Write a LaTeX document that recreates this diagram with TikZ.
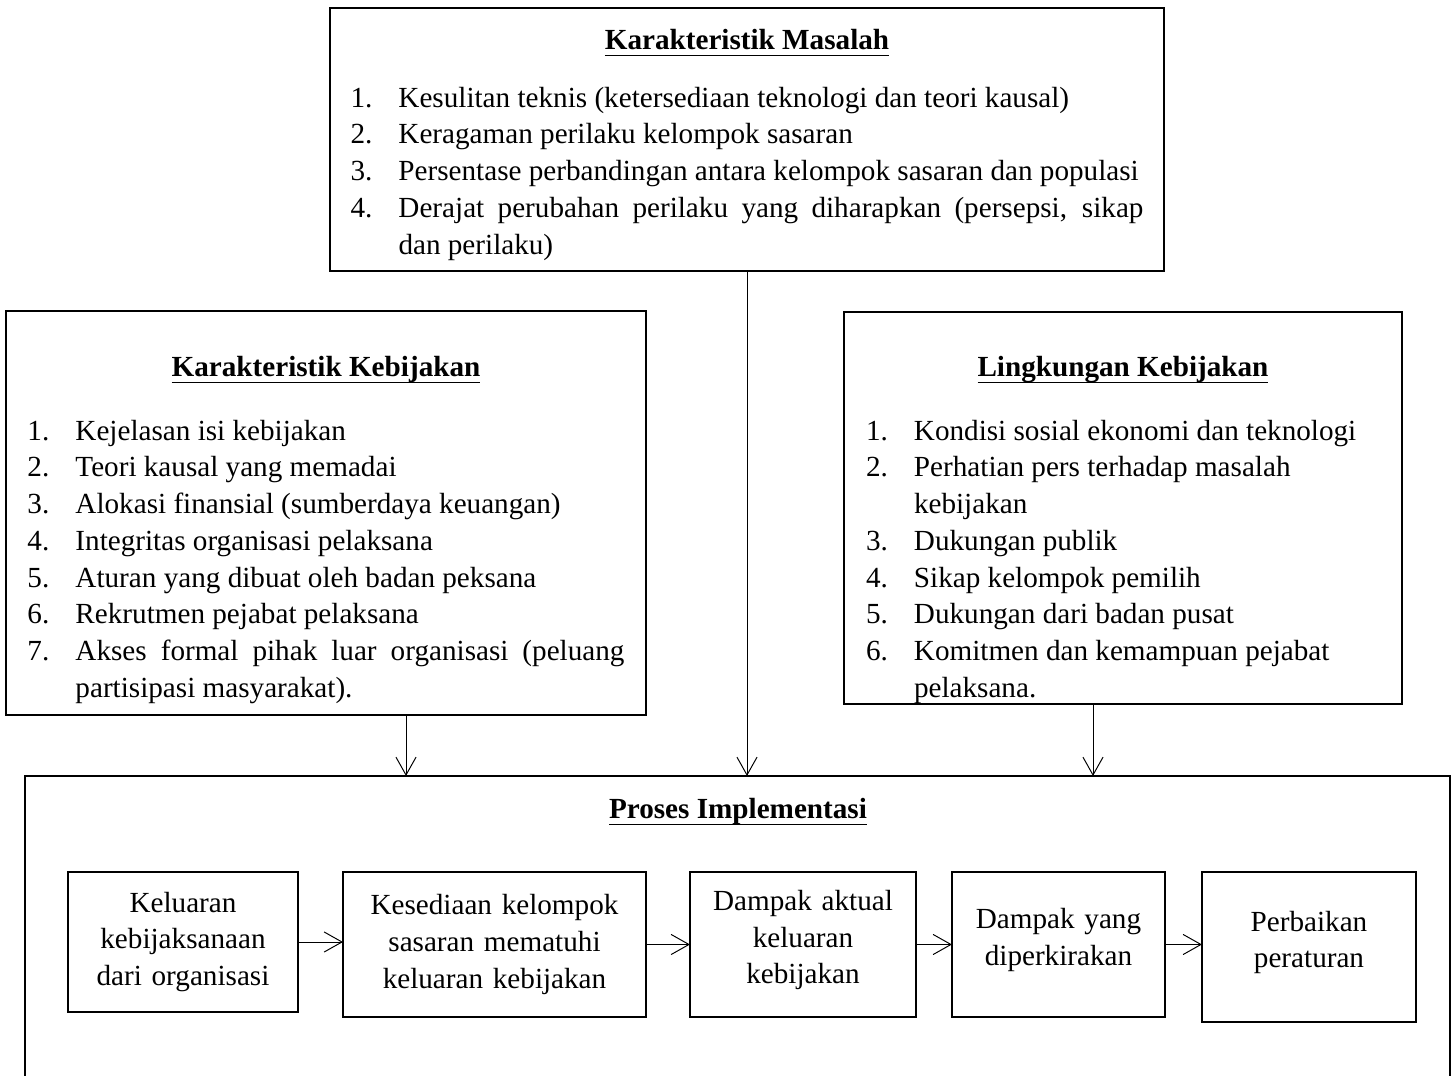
\documentclass[tikz,border=0pt]{standalone}
\usepackage{fontspec}
\setmainfont{Liberation Serif}
\usepackage{tikz}
\usetikzlibrary{arrows.meta,positioning}

\newlength{\px}
\setlength{\px}{0.408pt}
\hyphenpenalty=10000
\exhyphenpenalty=10000
% numbered line with hanging indent
\newcommand{\itm}[2]{\par\noindent\hangindent=48\px\hangafter=1\makebox[48\px][l]{#1.}#2}
% underline close to the baseline
\newcommand{\garis}[1]{\setbox0\hbox{#1}\rlap{\rule[-2.6pt]{\wd0}{0.7pt}}\box0}
% centred underlined heading: name, space above baseline, extra gap below
\newcommand{\judul}[3]{{\centering\rule{0pt}{#2\px}\garis{\textbf{#1}}\par}\vspace{#3\px}}
\newcommand{\bawah}[1]{\rule[-#1\px]{0pt}{#1\px}\par}
\newcommand{\ganjal}{\rule[-15\px]{0pt}{15\px}}

\begin{document}
\begin{tikzpicture}[x=\px, y=-\px, font=\fontsize{11.9}{15}\selectfont]
\tikzstyle{panel} = [rectangle, draw, line width=0.8pt, anchor=north, align=justify, inner ysep=0pt, outer sep=0pt]
\tikzstyle{tahap} = [rectangle, draw, line width=0.8pt, anchor=north, align=center, inner sep=0pt, outer sep=0pt]
\tikzstyle{arrow} = [line width=0.4pt, -{Straight Barb[length=7.3pt,width=8.2pt]}]

\useasboundingbox (0,0) rectangle (1456,1076);

\node[panel, text width=793\px, inner xsep=20.5\px] (masalah) at (747,8) {%
\judul{Karakteristik Masalah}{42}{20.3}
\itm{1}{Kesulitan teknis (ketersediaan teknologi dan teori kausal)}
\itm{2}{Keragaman perilaku kelompok sasaran}
\itm{3}{Persentase perbandingan antara kelompok sasaran dan populasi}
\itm{4}{Derajat perubahan perilaku yang diharapkan (persepsi, sikap\linebreak dan perilaku)\bawah{17}}};

\node[panel, text width=597\px, inner xsep=21.5\px] (kebijakan) at (326,311) {%
\judul{Karakteristik Kebijakan}{66}{26.3}
\itm{1}{Kejelasan isi kebijakan}
\itm{2}{Teori kausal yang memadai}
\itm{3}{Alokasi finansial (sumberdaya keuangan)}
\itm{4}{Integritas organisasi pelaksana}
\itm{5}{Aturan yang dibuat oleh badan peksana}
\itm{6}{Rekrutmen pejabat pelaksana}
\itm{7}{Akses formal pihak luar organisasi (peluang\linebreak partisipasi masyarakat).\bawah{18}}};

\node[panel, text width=514\px, inner xsep=22\px] (lingkungan) at (1123,312) {%
\judul{Lingkungan Kebijakan}{65}{26.3}
\itm{1}{Kondisi sosial ekonomi dan teknologi}
\itm{2}{Perhatian pers terhadap masalah\newline kebijakan}
\itm{3}{Dukungan publik}
\itm{4}{Sikap kelompok pemilih}
\itm{5}{Dukungan dari badan pusat}
\itm{6}{Komitmen dan kemampuan pejabat\newline pelaksana.\bawah{5}}};

\node[draw, line width=0.8pt, outer sep=0pt, minimum width=1425\px, minimum height=340\px, anchor=north] (proses) at (737.5,776) {};
\node[font=\fontsize{11.9}{15}\selectfont\bfseries] (prosesjudul) at (738,812) {\garis{Proses Implementasi}};

\node[tahap, minimum width=230\px, minimum height=140\px, text width=220\px] (keluaran) at (183,872) {Keluaran\\kebijaksanaan\\dari organisasi};
\node[tahap, minimum width=303\px, minimum height=145\px, text width=293\px] (kesediaan) at (494.5,872) {Kesediaan kelompok\\sasaran mematuhi\\keluaran kebijakan};
\node[tahap, minimum width=226\px, minimum height=145\px, text width=216\px] (aktual) at (803,872) {Dampak aktual\\keluaran\\kebijakan\ganjal};
\node[tahap, minimum width=213\px, minimum height=145\px, text width=203\px] (perkiraan) at (1058.5,872) {Dampak yang\\diperkirakan\ganjal};
\node[tahap, minimum width=214\px, minimum height=150\px, text width=204\px] (perbaikan) at (1309,872) {Perbaikan\\peraturan\ganjal};

\coordinate (kiri) at (406,0);
\coordinate (kanan) at (1093,0);

\draw[arrow] (kebijakan.south -| kiri) -- (proses.north -| kiri);
\draw[arrow] (masalah.south) -- (masalah.south |- proses.north);
\draw[arrow] (lingkungan.south -| kanan) -- (proses.north -| kanan);

\draw[arrow] (keluaran.east) -- (keluaran.east -| kesediaan.west);
\draw[arrow] (kesediaan.east) -- (kesediaan.east -| aktual.west);
\draw[arrow] (aktual.east) -- (aktual.east -| perkiraan.west);
\draw[arrow] (perkiraan.east) -- (perkiraan.east -| perbaikan.west);
\end{tikzpicture}
\end{document}
